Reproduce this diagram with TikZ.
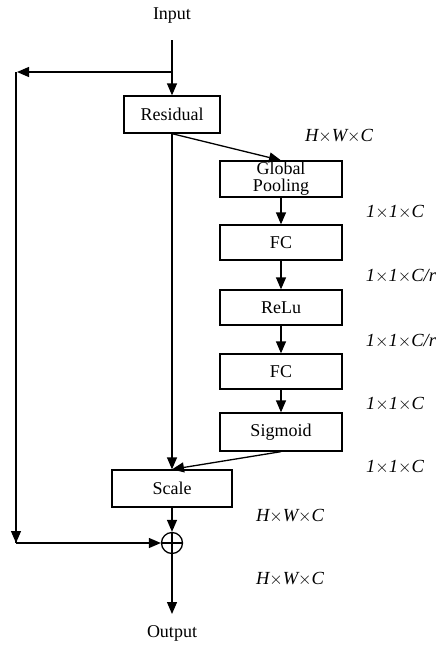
\documentclass[tikz,border=0pt]{standalone}
\usepackage{fontspec}
\setmainfont{Liberation Serif}
\usetikzlibrary{arrows.meta}
\begin{document}
\begin{tikzpicture}[x=1pt,y=-1pt,
  line width=1.3pt,
  >={Triangle[length=12pt,width=10pt]},
  blk/.style={draw,rectangle,inner sep=0pt,font=\fontsize{18}{17}\selectfont,align=center},
  dim/.style={font=\fontsize{18.5}{18}\selectfont\itshape},
  lbl/.style={font=\fontsize{18}{18}\selectfont}]
\useasboundingbox (0,0) rectangle (438,646);
% blocks
\node[blk,minimum width=96pt,minimum height=37pt] (res) at (172,114.5) {Residual};
\node[blk,minimum width=122pt,minimum height=36pt] (gp) at (281,179) {Global\\Pooling};
\node[blk,minimum width=122pt,minimum height=35pt] (fc1) at (281,242.5) {FC};
\node[blk,minimum width=122pt,minimum height=35pt] (relu) at (281,307.5) {ReLu};
\node[blk,minimum width=122pt,minimum height=35pt] (fc2) at (281,371.5) {FC};
\node[blk,minimum width=122pt,minimum height=38pt] (sig) at (281,432) {Sigmoid};
\node[blk,minimum width=120pt,minimum height=37pt] (scale) at (172,488.5) {Scale};
\node[draw,circle,minimum size=21pt,inner sep=0pt] (sum) at (172,543) {};
\draw (sum.north) -- (sum.south) (sum.west) -- (sum.east);
% terminals
\node[lbl] (in) at (172,16) {Input};
\node[lbl] (out) at (172,633) {Output};
\coordinate (top) at (172,40);
\coordinate (split) at (172,72);
\coordinate (lt) at (16,72);
\coordinate (lb) at (16,543);
\coordinate (end) at (172,614);
% main path
\draw[->] (top) -- (res.north);
\draw[->] (split) -- (17,72);
\draw (lt) -- (lb);
\draw[->] (16,500) -- (lb);
\draw[->] (lb) -- (sum.west);
\draw[->] (res.south) -- (scale.north);
\draw[->] (res.south) -- (gp.north);
\draw[->] (gp) -- (fc1);
\draw[->] (fc1) -- (relu);
\draw[->] (relu) -- (fc2);
\draw[->] (fc2) -- (sig);
\draw[->] (sig.south) -- (scale.north);
\draw[->] (scale) -- (sum.north);
\draw[->] (sum.south) -- (end);
% tensor sizes
\node[dim] (d1) at (339,136) {H$\times$W$\times$C};
\node[dim] (d2) at (395,212) {1$\times$1$\times$C};
\node[dim] (d3) at (401,276) {1$\times$1$\times$C/r};
\node[dim] (d4) at (401,341) {1$\times$1$\times$C/r};
\node[dim] (d5) at (395,404) {1$\times$1$\times$C};
\node[dim] (d6) at (395,467) {1$\times$1$\times$C};
\node[dim] (d7) at (290,516) {H$\times$W$\times$C};
\node[dim] (d8) at (290,579) {H$\times$W$\times$C};
\end{tikzpicture}
\end{document}
